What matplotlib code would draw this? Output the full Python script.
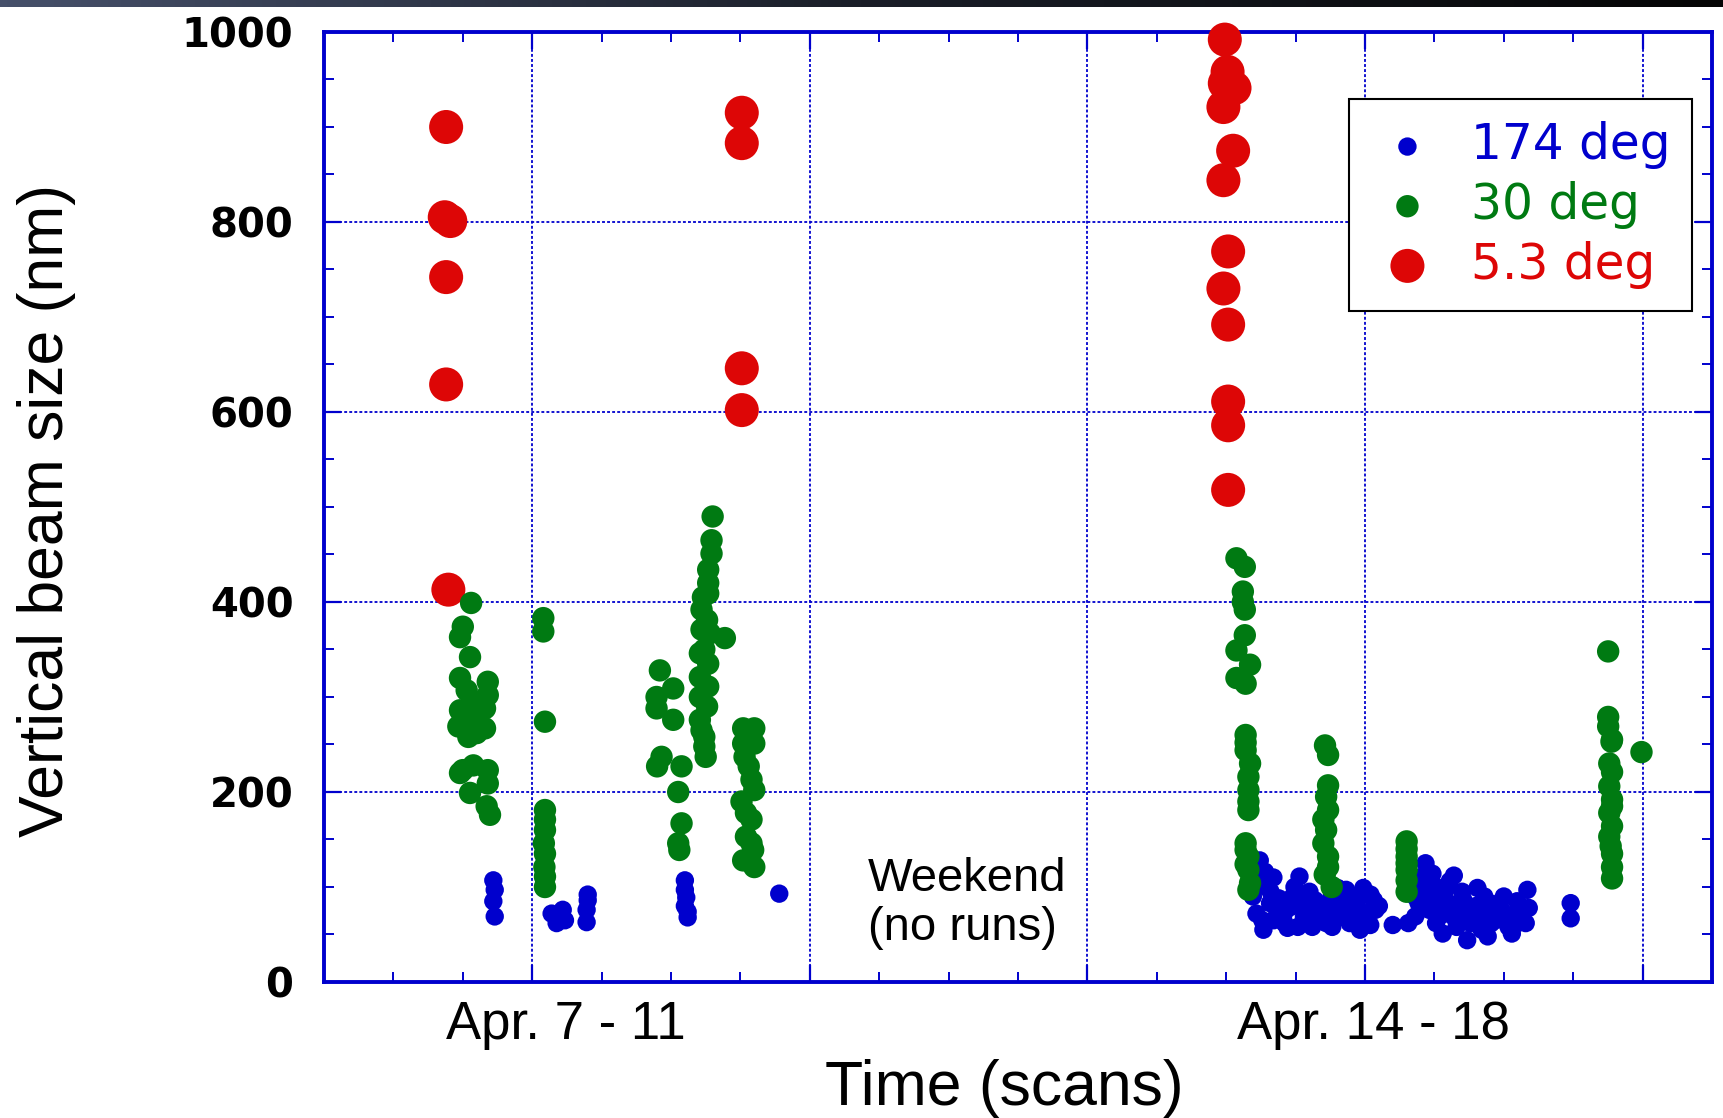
import matplotlib.pyplot as plt
import numpy as np
from matplotlib.colors import LinearSegmentedColormap
from matplotlib.ticker import MultipleLocator

# 174 deg points (scan index, vertical beam size in nm)
blue_x = [86, 86.5, 86, 86.5,
          107, 111, 108.8, 111.8,
          120, 120, 119.6, 119.6,
          155, 155, 155.5, 155, 156, 156,
          189,
          362.1, 364.0, 364.6, 359.6, 360.9, 363.4, 367.1, 369.0, 370.8, 372.1,
          374.6, 376.4, 377.0, 375.8, 379.5, 382.0, 383.3, 385.7, 390.1, 390.7,
          393.2, 394.5, 397.0, 399.4, 400.7, 403.2, 403.8, 401.9, 358.4, 365.8,
          373.3, 388.2, 398.2, 392.0,
          361, 366, 368, 371, 374, 378, 380, 383, 386, 388,
          391, 395, 396, 399, 402, 405, 363, 367, 381, 393,
          410.0,
          421.8, 424.3, 420.6, 418.1, 423.1, 430.5, 428.0, 431.8, 428.0, 433.0,
          436.8, 440.5, 443.0, 441.7, 444.2, 449.2, 451.7, 454.8, 458.5, 457.9,
          452.9, 436.8, 415.6, 444.2, 425.6, 419.3, 426.8, 435.5, 445.5, 456.0,
          425.6,
          418, 420, 422, 424, 427, 429, 431, 433, 435, 438,
          440, 442, 446, 448, 450, 453, 455, 459, 423, 432,
          474.1, 474.1]
blue_y = [107, 97, 85, 69,
          72, 76, 62, 65,
          92, 86, 76, 63,
          107, 97, 89, 80, 74, 68,
          93,
          128, 116, 106, 90, 72, 55, 65, 88, 72, 57,
          100, 111, 83, 58, 72, 86, 65, 76, 99, 72,
          97, 62, 83, 99, 72, 86, 76, 60, 114, 83,
          79, 58, 55, 83,
          100, 95, 78, 62, 90, 68, 95, 80, 62, 90,
          85, 75, 90, 66, 92, 80, 65, 110, 58, 68,
          60,
          125, 114, 97, 69, 76, 106, 86, 69, 51, 58,
          44, 99, 90, 65, 48, 76, 58, 85, 97, 62,
          51, 76, 62, 72, 62, 83, 69, 86, 62, 72,
          100,
          90, 110, 80, 92, 76, 97, 82, 70, 95, 62,
          80, 55, 82, 66, 90, 70, 62, 78, 105, 112,
          83, 67]

# 30 deg points
green_x = [78, 75, 74, 77.6, 74, 84, 76.4, 84, 74, 83, 77, 73.4, 83, 77, 79,
           74, 78.8, 84, 84, 77.6, 83.6, 84.8, 75, 79, 80,
           104, 104, 104.6, 104.6, 104.6, 104.6, 104.2, 104.6, 104.4, 104.6, 104.6,
           146, 150.8, 144.8, 144.8, 150.8, 146.6, 145, 153.8, 152.6, 153.8, 152.6, 153,
           165, 164.6, 164.6, 163.4, 163.4, 163.4, 161, 163, 161, 164, 169.4, 160.4,
           163.4, 160.4, 163.4, 160.4, 163, 160.4, 162, 162.5, 161.5, 162, 161, 162,
           176, 180, 176, 180, 176.5, 179, 175.4, 177, 179, 177, 179, 176, 180, 178,
           180, 179.6,
           353.7, 356.7, 356, 356, 356.7, 356.7, 353.7, 358.6, 353.7, 357, 357, 357,
           358.6, 358, 358, 358, 357, 358, 358, 358.6, 358, 357, 358, 357, 357,
           385.6, 386.7, 386.7, 386, 385, 386.7, 385, 386.7, 386.7, 388, 386, 385.5,
           415, 415, 415, 415, 415, 415, 415,
           487.6, 487.6, 487.6, 488.8, 499.6, 489, 488, 489, 488, 489, 488, 489, 489,
           489, 488, 489, 488.5, 489]
green_y = [399, 374, 363, 342, 320, 316, 307, 302, 286, 288, 283, 269, 267, 258, 276,
           220, 228, 223, 209, 199, 185, 176, 223, 295, 262,
           383, 369, 274, 181, 171, 160, 146, 135, 121, 111, 100,
           328, 309, 300, 288, 276, 237, 227, 227, 200, 167, 146, 139,
           490, 465, 451, 434, 420, 409, 392, 381, 371, 367, 362, 346,
           335, 321, 311, 300, 290, 276, 258, 237, 405, 350, 265, 248,
           267, 267, 251, 251, 237, 213, 190, 178, 171, 153, 146, 128, 121, 227,
           202, 139,
           446, 437, 411, 400, 392, 365, 349, 334, 320, 314, 260, 244,
           230, 216, 202, 181, 146, 132, 118, 104, 97, 124, 190, 252, 139,
           249, 239, 207, 195, 171, 181, 146, 132, 121, 100, 160, 113,
           148, 132, 118, 107, 95, 125, 140,
           348, 279, 269, 253, 242, 221, 206, 192, 178, 164, 153, 135, 121,
           109, 230, 185, 143, 255]

# 5.3 deg points
red_x = [69, 68.5, 70.5, 69, 69, 69.8,
         175.5, 175.5, 175.5, 175.5,
         349.5, 350.5, 349.5, 353, 349, 352.5, 349, 350.7, 349, 350.7, 350.7, 350.7, 350.7]
red_y = [900, 805, 801, 742, 629, 413,
         915, 883, 646, 602,
         992, 958, 946, 941, 921, 875, 844, 769, 730, 692, 611, 586, 518]

legend_labels = ['174 deg', '30 deg', '5.3 deg']
series_colors = ['#0000CD', '#007A12', '#DD0606']
week_labels = ['Apr. 7 - 11', 'Apr. 14 - 18']
week_label_x = [112, 403]

plt.rcParams['font.family'] = ['Liberation Sans', 'DejaVu Sans']

fig = plt.figure(figsize=(17.23, 11.18), dpi=100)

# dark strip left over from the slide screenshot
bar_ax = fig.add_axes([0, 1 - 7 / 1118, 1, 7 / 1118])
bar_cmap = LinearSegmentedColormap.from_list('bar', ['#46506a', '#1a1e28', '#050505'])
bar_ax.imshow(np.linspace(0, 1, 256)[None, :], aspect='auto', cmap=bar_cmap)
bar_ax.axis('off')

ax = fig.add_axes([0.18804, 0.12165, 0.80557, 0.84973])

hb = ax.scatter(blue_x, blue_y, s=175, color=series_colors[0], edgecolors='none',
                label=legend_labels[0], zorder=3, clip_on=False)
hr = ax.scatter(red_x, red_y, s=600, color=series_colors[2], edgecolors='none',
                label=legend_labels[2], zorder=3, clip_on=False)
hg = ax.scatter(green_x, green_y, s=260, color=series_colors[1], edgecolors='none',
                label=legend_labels[1], zorder=3, clip_on=False)

ax.set_xlim(25, 525)
ax.set_ylim(0, 1000)
ax.xaxis.set_major_locator(MultipleLocator(100))
ax.xaxis.set_minor_locator(MultipleLocator(25))
ax.yaxis.set_major_locator(MultipleLocator(200))
ax.yaxis.set_minor_locator(MultipleLocator(50))
ax.set_xticklabels([])

for sp in ax.spines.values():
    sp.set_color('#0000CD')
    sp.set_linewidth(2.8)

ax.tick_params(which='both', direction='in', top=True, right=True, color='#0000CD')
ax.tick_params(which='major', length=12, width=1.6)
ax.tick_params(which='minor', length=7.5, width=1.4)
ax.tick_params(axis='y', which='major', pad=22, labelsize=29, labelcolor='black')
for lbl in ax.get_yticklabels():
    lbl.set_family('DejaVu Sans')
    lbl.set_fontweight('bold')

ax.set_axisbelow(True)
ax.grid(True, which='major', color='#0000CD', linewidth=1.3, linestyle=(0, (1.6, 1.2)))

for lab, xpos in zip(week_labels, week_label_x):
    ax.text(xpos, -0.045, lab, transform=ax.get_xaxis_transform(),
            ha='center', va='center', fontsize=38)

ax.text(221, 83, 'Weekend\n(no runs)', ha='left', va='center', fontsize=34, linespacing=1.15)

fig.text(0.583, 0.026, 'Time (scans)', ha='center', va='center', fontsize=45)
fig.text(0.0267, 0.543, 'Vertical beam size (nm)', rotation=90, ha='center', va='center',
         fontsize=45)

leg = ax.legend(handles=[hb, hg, hr], labels=legend_labels, loc='upper right',
                bbox_to_anchor=(0.9856, 0.929), borderaxespad=0, fancybox=False,
                edgecolor='black', framealpha=1, labelcolor=series_colors,
                prop={'family': 'DejaVu Sans', 'size': 35},
                handletextpad=0.55, borderpad=0.45, labelspacing=0.24, handlelength=1.5,
                scatterpoints=1)
leg.get_frame().set_linewidth(1.5)
leg.set_zorder(5)

fig.savefig('out.png', dpi=100)
